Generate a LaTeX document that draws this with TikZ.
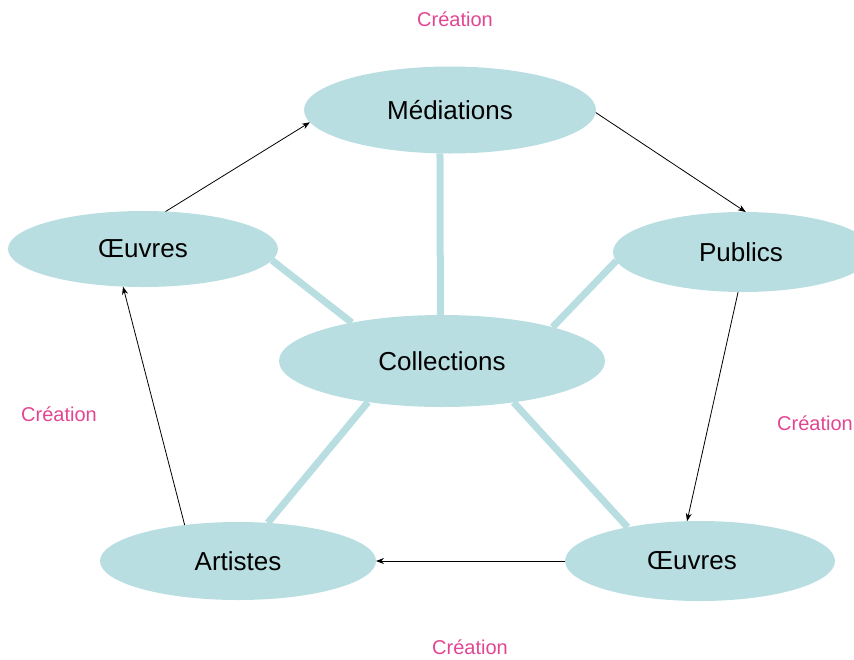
\documentclass[tikz,border=0pt]{standalone}
\usepackage{fontspec}
\setmainfont{Liberation Sans}
\usetikzlibrary{arrows.meta,shapes.geometric}
\pgfdeclarelayer{background}
\pgfsetlayers{background,main}
\definecolor{bubble}{RGB}{185,222,226}
\definecolor{spoke}{RGB}{185,222,226}
\definecolor{pinklab}{RGB}{226,70,146}
\begin{document}
\begin{tikzpicture}[x=1pt,y=-1pt,
  bub/.style={ellipse, fill=bubble, inner sep=0pt, outer sep=0pt, font=\fontsize{26}{30}\selectfont},
  spk/.style={draw=spoke, line width=7pt},
  arr/.style={draw=black, line width=0.8pt, -{Stealth[length=8pt,width=6pt]}},
  lab/.style={text=pinklab, font=\fontsize{20}{24}\selectfont}]
\useasboundingbox (0,0) rectangle (854,659);
\clip (0,0) rectangle (854,659);
\node[bub, minimum width=292pt, minimum height=87pt] (med) at (450,110) {Médiations};
\node[bub, minimum width=270pt, minimum height=76pt] (oeuL) at (143,249) {Œuvres};
\node[bub, minimum width=260pt, minimum height=80pt] (pub) at (743,252) {\hspace*{-4pt}Publics};
\node[bub, minimum width=326pt, minimum height=92pt] (col) at (442,361) {Collections};
\node[bub, minimum width=276pt, minimum height=78pt] (art) at (238,561) {Artistes};
\node[bub, minimum width=270pt, minimum height=80pt] (oeuR) at (700,561) {Œuvres\hspace*{16pt}};
\begin{pgfonlayer}{background}
\draw[spk] (col.92) -- (med.257);
\draw[spk] (col.157.6) -- (oeuL.355);
\draw[spk] (col.17) -- (pub.184.6);
\draw[spk] (col.209) -- (art.52);
\draw[spk] (col.330) -- (oeuR.155.8);
\end{pgfonlayer}
\draw[arr] (oeuL.59) -- (med.185);
\draw[arr] (med.359) -- (pub.86);
\draw[arr] (pub.263) -- (oeuR.108);
\draw[arr] (oeuR.west) -- (art.east);
\draw[arr] (art.146) -- (oeuL.242);
\node[lab] (c1) at (455,19) {Création};
\node[lab] (c2) at (59,414) {Création};
\node[lab] (c3) at (815,423) {Création};
\node[lab] (c4) at (470,647) {Création};
\end{tikzpicture}
\end{document}
